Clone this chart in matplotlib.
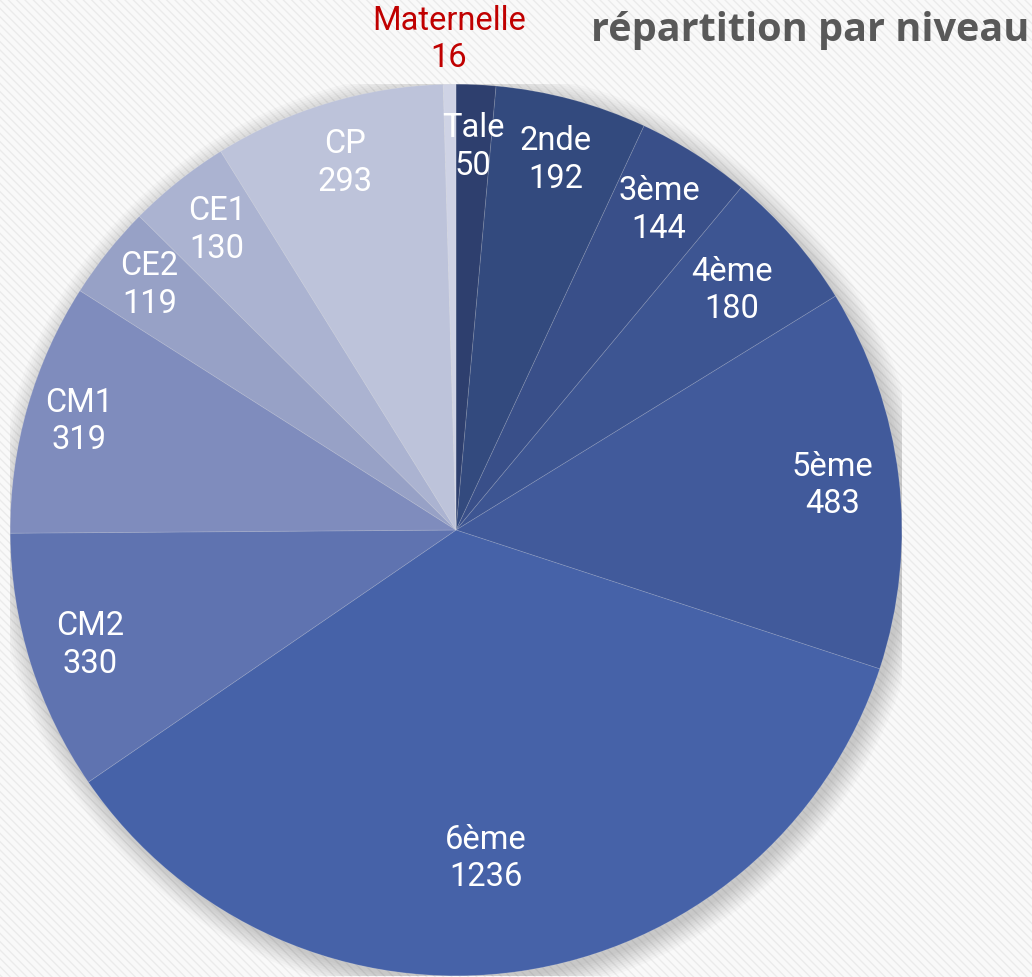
import matplotlib.pyplot as plt
import matplotlib.patches as mpatches
import numpy as np

# Données : effectifs par niveau
niveaux = ['Tale', '2nde', '3ème', '4ème', '5ème', '6ème',
           'CM2', 'CM1', 'CE2', 'CE1', 'CP', 'Maternelle']
effectifs = [50, 192, 144, 180, 483, 1236, 330, 319, 119, 130, 293, 16]
couleurs = ['#2e3f6e', '#334a7e', '#394f89', '#3d5592', '#415a9b', '#4662a8',
            '#5f73b0', '#7f8cbd', '#97a1c6', '#abb3d1', '#bdc3da', '#cfd3e5']
# distance des étiquettes (fraction du rayon)
dist_labels = [0.86, 0.86, 0.85, 0.82, 0.85, 0.74, 0.86, 0.88, 0.88, 0.86, 0.86, 1.10]

fig = plt.figure(figsize=(10.32, 9.77), dpi=100)
fig.patch.set_facecolor('#f7f7f7')

# Fond rayé
fond = mpatches.Rectangle((0, 0), 1, 1, transform=fig.transFigure,
                          facecolor='#f9f9f9', edgecolor='#ebebeb',
                          hatch='\\\\\\\\', linewidth=0, zorder=-10)
fig.patches.append(fond)

ax = fig.add_axes([0.4419 - 0.432, 0.4575 - 0.4565, 0.864, 0.913])

# Ombre douce autour du camembert
for r in np.linspace(1.045, 1.0, 10):
    ax.add_patch(mpatches.Circle((0.01, -0.012), r, facecolor='#000000',
                                 alpha=0.018, linewidth=0, zorder=0))

wedges, _ = ax.pie(effectifs, colors=couleurs, startangle=90, counterclock=False,
                   radius=1.0, wedgeprops=dict(edgecolor=(1, 1, 1, 0.15), linewidth=0.6))
for w in wedges:
    w.set_zorder(2)

ax.set_xlim(-1, 1)
ax.set_ylim(-1, 1)
ax.set_aspect('equal')
ax.axis('off')

# Étiquettes
for w, nom, val, d in zip(wedges, niveaux, effectifs, dist_labels):
    ang = np.deg2rad((w.theta1 + w.theta2) / 2)
    if nom == '6ème':
        ang -= np.deg2rad(3)
    x, y = d * np.cos(ang), d * np.sin(ang)
    couleur = '#c00000' if nom == 'Maternelle' else 'white'
    ax.text(x, y, f'{nom}\n{val}', ha='center', va='center', color=couleur,
            fontsize=23.5, fontfamily='Roboto', linespacing=1.22,
            zorder=5, clip_on=False)

fig.text(0.997, 0.969, 'répartition par niveau', ha='right', va='center',
         fontsize=28.5, fontweight='bold', color='#595959', fontfamily='Open Sans')

fig.savefig('out.png', dpi=100, facecolor=fig.get_facecolor())
